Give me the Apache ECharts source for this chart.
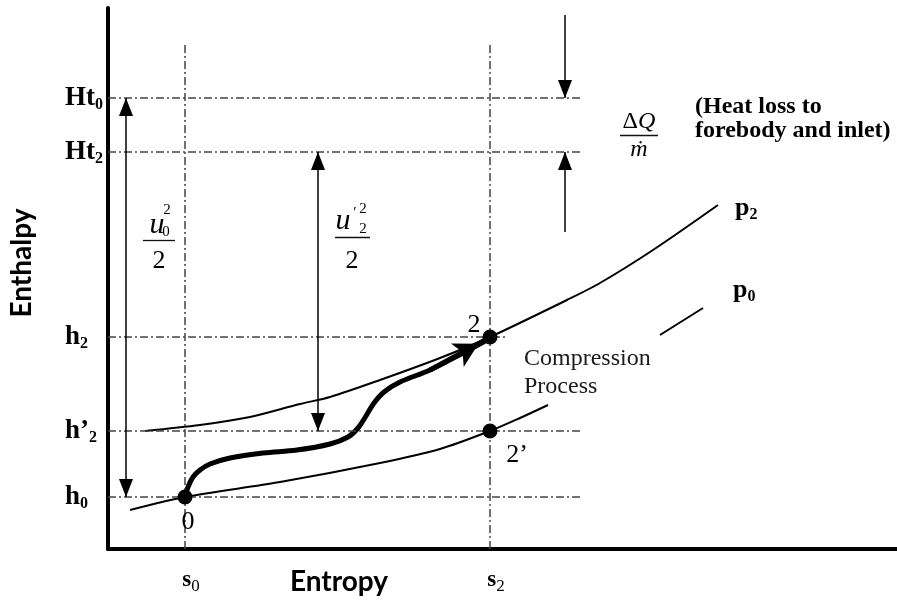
<!DOCTYPE html>
<html>
<head>
<meta charset="utf-8">
<script src="https://cdn.jsdelivr.net/npm/echarts@6/dist/echarts.min.js"></script>
<style>
  html, body { margin: 0; padding: 0; background: #fff; }
  #chart { width: 897px; height: 603px; }
</style>
</head>
<body>
<div id="chart"></div>
<script>
// ---- h-s diagram of the inlet compression (arbitrary units) ----
const entropyRange = [0, 789];
const enthalpyRange = [0, 541];

// reference entropies and enthalpies
const sTickValues = [77, 382];                 // s0, s2
const sTickLabels = ['{s|s}{d|0}', '{s|s}{d|2}'];
const hTickValues = [52, 118, 212, 397, 451];  // h0, h'2, h2, Ht2, Ht0
const hTickLabels = ['{b|h}{d|0}', '{b|h\u2019}{d|2}', '{b|h}{d|2}', '{b|Ht}{d|2}', '{b|Ht}{d|0}'];

// isobar p0 (broken where the process note sits)
const p0EntropyA = [22, 77, 172, 272, 332, 382, 412, 440];
const p0EnthalpyA = [39, 52, 67, 86, 100, 118, 131, 144];
const p0EntropyB = [552, 595];
const p0EnthalpyB = [214, 241];

// isobar p2
const p2Entropy = [37, 92, 142, 192, 222, 272, 332, 382, 459, 492, 545, 610];
const p2Enthalpy = [118, 124, 132, 145, 152, 169, 191, 212, 249, 266, 299, 344];

// actual compression path 0 -> 2
const pathEntropy = [77, 80, 85, 92, 102, 122, 155, 189, 222, 240, 250, 258, 266, 276, 292, 322, 355, 379];
const pathEnthalpy = [52, 62, 72, 79, 85, 91, 96, 99, 105, 112, 121, 133, 146, 157, 167, 179, 196, 209];

// state points 0, 2, 2'
const stateEntropy = [77, 382, 382];
const stateEnthalpy = [52, 212, 118];

const zip = (xs, ys) => xs.map((x, i) => [x, ys[i]]);

const S0 = sTickValues[0], S2 = sTickValues[1];
const [H0, H2P, H2, HT2, HT0] = hTickValues;

const serif = 'Liberation Serif';
const ink = '#000';

// dash-dot construction lines
const guideSegments = [
  [[0, HT0], [475, HT0]],
  [[0, HT2], [475, HT2]],
  [[0, H2], [399, H2]],
  [[0, H2P], [475, H2P]],
  [[0, H0], [475, H0]],
  [[S0, 0], [S0, 504]],
  [[S2, 0], [S2, 504]]
];

// enthalpy-difference arrows: [from, to, arrow at start, arrow at end]
const arrowSegments = [
  [[18, H0], [18, HT0], true, true],
  [[210, H2P], [210, HT2], true, true],
  [[457, 534], [457, HT0], false, true],
  [[457, 317], [457, HT2], false, true]
];

// fraction bars
const barSegments = [
  [[35, 309], [67, 309]],
  [[227, 312], [262, 312]],
  [[512, 414], [550, 414]]
];

const txt = (pos, formatter, style) => ({
  value: pos,
  label: Object.assign({ show: true, position: 'inside', formatter: formatter, color: ink }, style)
});

const subRich = {
  b: { fontFamily: serif, fontWeight: 'bold', fontSize: 26, lineHeight: 30, color: ink },
  d: { fontFamily: serif, fontWeight: 'bold', fontSize: 16, lineHeight: 22, verticalAlign: 'bottom', color: ink }
};

const notes = [
  txt([80, 27], '0', { fontFamily: serif, fontSize: 26 }),
  txt([366, 224], '2', { fontFamily: serif, fontSize: 26 }),
  txt([409, 94], '2\u2019', { fontFamily: serif, fontSize: 26 }),
  txt([416, 176], 'Compression\nProcess', { fontFamily: serif, fontSize: 24, lineHeight: 28, align: 'left', color: '#1a1a1a' }),
  txt([627, 341], '{b|p}{d|2}', { align: 'left', rich: subRich }),
  txt([625, 259], '{b|p}{d|0}', { align: 'left', rich: subRich }),
  txt([587, 430], '(Heat loss to\nforebody and inlet)', { fontFamily: serif, fontWeight: 'bold', fontSize: 24, lineHeight: 24, align: 'left' }),
  // ΔQ / m-dot
  txt([531, 427], '{u|\u0394}{i|Q}', { rich: {
    u: { fontFamily: serif, fontSize: 24, color: ink },
    i: { fontFamily: serif, fontStyle: 'italic', fontSize: 24, color: ink } } }),
  txt([531, 399], '\u1E41', { fontFamily: serif, fontStyle: 'italic', fontSize: 24 }),
  // u0^2 / 2
  txt([49, 324], 'u', { fontFamily: serif, fontStyle: 'italic', fontSize: 30 }),
  txt([59, 339], '2', { fontFamily: serif, fontSize: 15 }),
  txt([58, 317], '0', { fontFamily: serif, fontSize: 15 }),
  txt([51, 288], '2', { fontFamily: serif, fontSize: 26 }),
  // u'2^2 / 2
  txt([235, 328], 'u', { fontFamily: serif, fontStyle: 'italic', fontSize: 30 }),
  txt([247, 336], '\u2032', { fontFamily: serif, fontSize: 15 }),
  txt([255, 340], '2', { fontFamily: serif, fontSize: 15 }),
  txt([255, 320], '2', { fontFamily: serif, fontSize: 15 }),
  txt([244, 288], '2', { fontFamily: serif, fontSize: 26 })
];

const dashDot = [8, 3, 2, 3];

const chart = echarts.init(document.getElementById('chart'), null, { renderer: 'canvas' });

chart.setOption({
  animation: false,
  backgroundColor: '#fff',
  grid: { left: 108, right: 0, top: 8, bottom: 54, containLabel: false, outerBoundsMode: 'none' },
  xAxis: {
    type: 'value', min: entropyRange[0], max: entropyRange[1],
    axisLine: { show: true, onZero: false, lineStyle: { color: '#000', width: 4 } },
    axisTick: { show: false },
    splitLine: { show: false },
    axisLabel: {
      customValues: sTickValues,
      margin: 16,
      padding: [0, 0, 0, 12],
      formatter: v => sTickLabels[sTickValues.indexOf(v)],
      rich: {
        s: { fontFamily: serif, fontWeight: 'bold', fontSize: 23, lineHeight: 30, color: ink },
        d: { fontFamily: serif, fontSize: 17, lineHeight: 24, verticalAlign: 'bottom', color: ink }
      }
    }
  },
  yAxis: {
    type: 'value', min: enthalpyRange[0], max: enthalpyRange[1],
    axisLine: { show: true, onZero: false, lineStyle: { color: '#000', width: 4 } },
    axisTick: { show: false },
    splitLine: { show: false },
    axisLabel: {
      customValues: hTickValues,
      margin: 43,
      align: 'left',
      formatter: v => hTickLabels[hTickValues.indexOf(v)],
      rich: {
        b: { fontFamily: serif, fontWeight: 'bold', fontSize: 27, lineHeight: 30, color: ink },
        d: { fontFamily: serif, fontWeight: 'bold', fontSize: 16, lineHeight: 20, verticalAlign: 'bottom', color: ink }
      }
    }
  },
  graphic: [
    { type: 'text', x: 22, y: 263, rotation: Math.PI / 2,
      style: { text: 'Enthalpy', font: 'bold 28px Lato', fill: '#000', align: 'center', verticalAlign: 'middle' } },
    { type: 'text', x: 339, y: 582,
      style: { text: 'Entropy', font: 'bold 28px Lato', fill: '#000', align: 'center', verticalAlign: 'middle' } }
  ],
  series: [
    {
      name: 'guides', type: 'line', data: [], silent: true, z: 1,
      markLine: {
        silent: true, symbol: ['none', 'none'], animation: false,
        label: { show: false },
        lineStyle: { type: dashDot, color: '#444', width: 1.5 },
        data: guideSegments.map(seg => [{ coord: seg[0] }, { coord: seg[1] }])
      }
    },
    {
      name: 'p0', type: 'line', data: zip(p0EntropyA, p0EnthalpyA), smooth: 0.3,
      showSymbol: false, silent: true, z: 3, lineStyle: { color: '#000', width: 2 }
    },
    {
      name: 'p0 upper', type: 'line', data: zip(p0EntropyB, p0EnthalpyB),
      showSymbol: false, silent: true, z: 3, lineStyle: { color: '#000', width: 2 }
    },
    {
      name: 'p2', type: 'line', data: zip(p2Entropy, p2Enthalpy), smooth: 0.3,
      showSymbol: false, silent: true, z: 3, lineStyle: { color: '#000', width: 2 }
    },
    {
      name: 'compression', type: 'line', data: zip(pathEntropy, pathEnthalpy), smooth: 0.35,
      showSymbol: false, silent: true, z: 4, lineStyle: { color: '#000', width: 5 },
      markLine: {
        silent: true, animation: false,
        symbol: ['none', 'arrow'], symbolSize: [20, 24], symbolOffset: [[0, 0], [0, 12]],
        label: { show: false },
        lineStyle: { type: 'solid', color: '#000', width: 5 },
        data: [[{ coord: [pathEntropy[pathEntropy.length - 3], pathEnthalpy[pathEnthalpy.length - 3]] },
                { coord: [pathEntropy[pathEntropy.length - 1] + 2, pathEnthalpy[pathEnthalpy.length - 1] + 2] }]]
      }
    },
    {
      name: 'arrows', type: 'line', data: [], silent: true, z: 2,
      markLine: {
        silent: true, animation: false,
        symbol: ['triangle', 'triangle'], symbolSize: [14, 18], symbolOffset: [[0, 9], [0, 9]],
        label: { show: false },
        lineStyle: { type: 'solid', color: '#000', width: 1.5 },
        data: arrowSegments.map(a => [
          { coord: a[0], symbol: a[2] ? 'triangle' : 'none' },
          { coord: a[1], symbol: a[3] ? 'triangle' : 'none' }
        ])
      }
    },
    {
      name: 'states', type: 'scatter', data: zip(stateEntropy, stateEnthalpy),
      symbol: 'circle', symbolSize: 15, z: 6, silent: true,
      itemStyle: { color: '#000', opacity: 1 }
    },
    {
      name: 'notes', type: 'scatter', data: notes, symbolSize: 1, clip: false, z: 7, silent: true,
      itemStyle: { color: 'rgba(0,0,0,0)', opacity: 1 },
      markLine: {
        silent: true, animation: false, symbol: ['none', 'none'],
        label: { show: false },
        lineStyle: { type: 'solid', color: '#111', width: 1.3 },
        data: barSegments.map(seg => [{ coord: seg[0] }, { coord: seg[1] }])
      }
    }
  ]
});
</script>
</body>
</html>
